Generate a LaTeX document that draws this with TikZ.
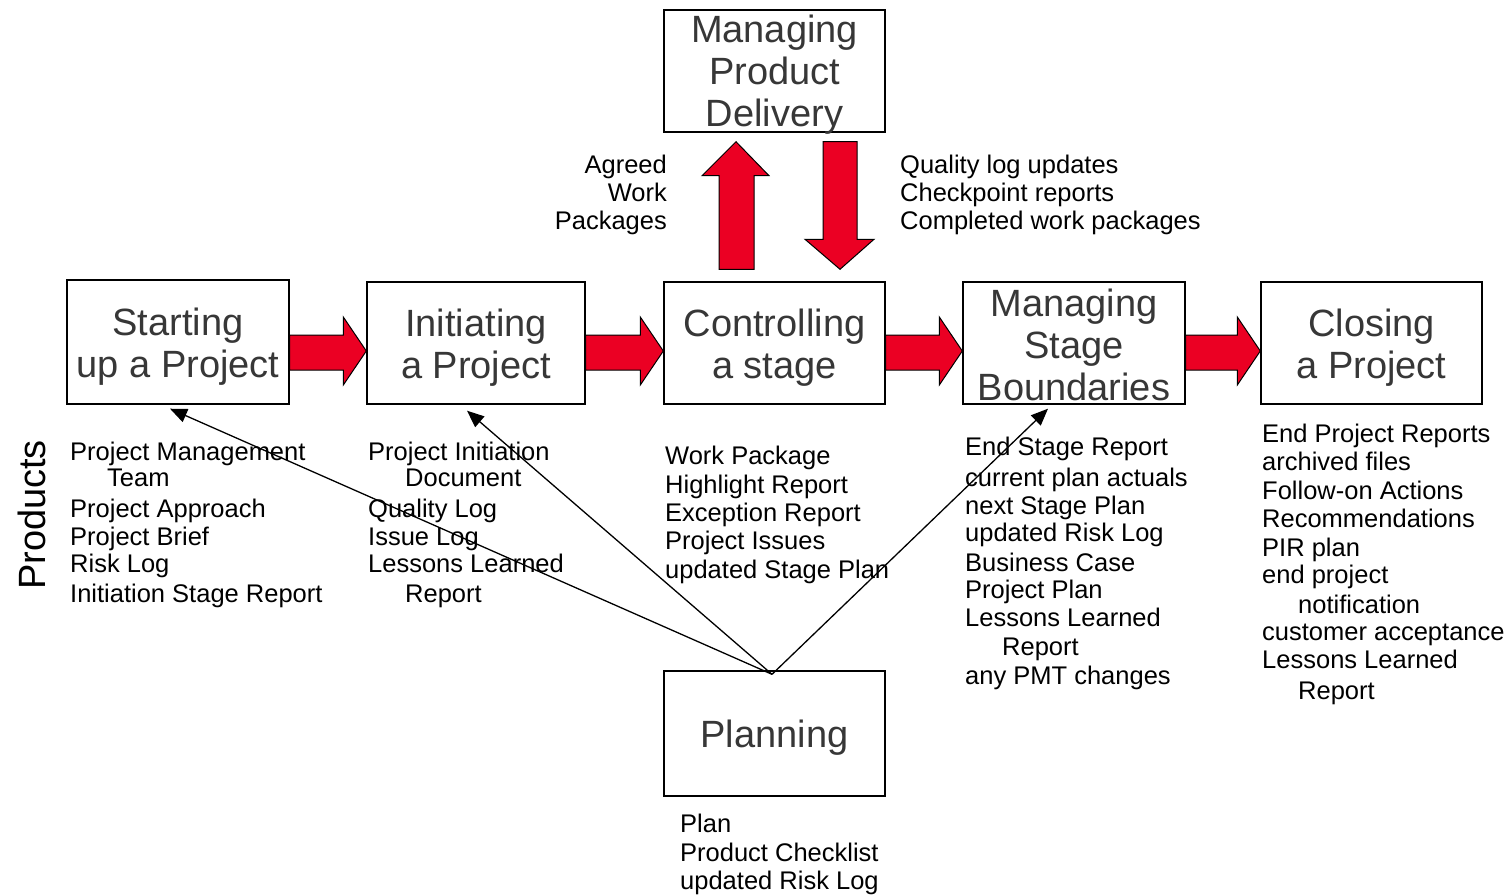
\documentclass[tikz,border=0pt]{standalone}
\usepackage{fontspec}
\setmainfont{Liberation Sans}
\usetikzlibrary{calc,arrows.meta}
\definecolor{bred}{RGB}{235,0,35}
\definecolor{btxt}{RGB}{55,55,55}
\newcommand\harr[2]{%
  \filldraw[barrow] (#1.east|-0,335) -- ($(#2.west|-0,335)+(-23,0)$) -- ($(#2.west|-0,317)+(-23,0)$)
   -- (#2.west|-0,351) -- ($(#2.west|-0,385)+(-23,0)$) -- ($(#2.west|-0,370)+(-23,0)$)
   -- (#1.east|-0,370) -- cycle;}
\begin{document}
\begin{tikzpicture}[x=1pt,y=-1pt,
  box/.style={draw, line width=1.4pt, inner sep=0pt},
  btext/.style={inner sep=0pt, align=center, font=\fontsize{38}{42}\selectfont, text=btxt},
  lst/.style={anchor=base west, inner sep=0pt, font=\fontsize{25.5}{28.5}\selectfont},
  lstr/.style={anchor=base east, inner sep=0pt, font=\fontsize{25.5}{28.5}\selectfont},
  barrow/.style={fill=bred, draw=black, line width=1pt, line join=miter},
  thinarrow/.style={line width=1.3pt, -{Triangle[length=17pt,width=14pt]}}]
\useasboundingbox (0,0) rectangle (1512,894);

% boxes
\node[box, minimum width=221pt, minimum height=122pt,
  label={[btext, yshift=-4pt]center:{Managing\\Product\\Delivery}}] (MPD) at (774.5,71) {};
\node[box, minimum width=222pt, minimum height=124pt,
  label={[btext, yshift=-4.5pt]center:{Starting\\up a Project}}] (SU) at (178,342) {};
\node[box, minimum width=218pt, minimum height=122pt,
  label={[btext, yshift=-4.5pt]center:{Initiating\\a Project}}] (IP) at (476,343) {};
\node[box, minimum width=221pt, minimum height=122pt,
  label={[btext, yshift=-4.5pt]center:{Controlling\\a stage}}] (CS) at (774.5,343) {};
\node[box, minimum width=222pt, minimum height=122pt,
  label={[btext, yshift=-1.5pt]center:{Managing\\Stage\\Boundaries}}] (MSB) at (1074,343) {};
\node[box, minimum width=221pt, minimum height=122pt,
  label={[btext, yshift=-4.5pt]center:{Closing\\a Project}}] (CP) at (1371.5,343) {};
\node[box, minimum width=221pt, minimum height=125pt,
  label={[btext, yshift=-4pt]center:{Planning}}] (PL) at (774.5,733.5) {};

% horizontal block arrows
\harr{SU}{IP}
\harr{IP}{CS}
\harr{CS}{MSB}
\harr{MSB}{CP}

% vertical block arrows
\filldraw[barrow] ($(CS.north-|719,0)+(0,-12)$) -- ($(MPD.south-|719,0)+(0,43)$) -- ($(MPD.south-|702,0)+(0,43)$)
  -- ($(MPD.south-|736,0)+(0,9)$) -- ($(MPD.south-|769,0)+(0,43)$) -- ($(MPD.south-|754,0)+(0,43)$)
  -- ($(CS.north-|754,0)+(0,-12)$) -- cycle;
\filldraw[barrow] ($(MPD.south-|823,0)+(0,9)$) -- ($(CS.north-|823,0)+(0,-42)$) -- ($(CS.north-|805,0)+(0,-42)$)
  -- ($(CS.north-|840,0)+(0,-12)$) -- ($(CS.north-|874,0)+(0,-42)$) -- ($(CS.north-|857,0)+(0,-42)$)
  -- ($(MPD.south-|857,0)+(0,9)$) -- cycle;

% thin arrows from Planning
\coordinate (pt) at ($(PL.north)+(-2.5,4)$);
\draw[thinarrow] (pt) -- ($(SU.south)+(-8,4)$);
\draw[thinarrow] (pt) -- ($(IP.south)+(-9,6)$);
\draw[thinarrow] (pt) -- ($(MSB.south)+(-26,4)$);

% Products label
\node[rotate=90, inner sep=0pt, font=\fontsize{38}{40}\selectfont] (prod) at (32,515) {Products};

% labels near vertical arrows
\node[lstr] (a1) at (667,173) {Agreed};
\node[lstr] (a2) at (667,201) {Work};
\node[lstr] (a3) at (667,229) {Packages};
\node[lst] (q1) at (900,173) {Quality log updates};
\node[lst] (q2) at (900,201) {Checkpoint reports};
\node[lst] (q3) at (900,229) {Completed work packages};

% column 1
\node[lst] (c1a) at (70,460) {Project Management};
\node[lst] (c1b) at (107,486) {Team};
\node[lst] (c1c) at (70,517) {Project Approach};
\node[lst] (c1d) at (70,545) {Project Brief};
\node[lst] (c1e) at (70,572) {Risk Log};
\node[lst] (c1f) at (70,602) {Initiation Stage Report};

% column 2
\node[lst] (c2a) at (368,460) {Project Initiation};
\node[lst] (c2b) at (405,486) {Document};
\node[lst] (c2c) at (368,517) {Quality Log};
\node[lst] (c2d) at (368,545) {Issue Log};
\node[lst] (c2e) at (368,572) {Lessons Learned};
\node[lst] (c2f) at (405,602) {Report};

% column 3
\node[lst] (c3a) at (665,464) {Work Package};
\node[lst] (c3b) at (665,493) {Highlight Report};
\node[lst] (c3c) at (665,521) {Exception Report};
\node[lst] (c3d) at (665,549) {Project Issues};
\node[lst] (c3e) at (665,578) {updated Stage Plan};

% column 4
\node[lst] (c4a) at (965,455) {End Stage Report};
\node[lst] (c4b) at (965,486) {current plan actuals};
\node[lst] (c4c) at (965,514) {next Stage Plan};
\node[lst] (c4d) at (965,541) {updated Risk Log};
\node[lst] (c4e) at (965,571) {Business Case};
\node[lst] (c4f) at (965,598) {Project Plan};
\node[lst] (c4g) at (965,626) {Lessons Learned};
\node[lst] (c4h) at (1002,655) {Report};
\node[lst] (c4i) at (965,684) {any PMT changes};

% column 5
\node[lst] (c5a) at (1262,442) {End Project Reports};
\node[lst] (c5b) at (1262,470) {archived files};
\node[lst] (c5c) at (1262,499) {Follow-on Actions};
\node[lst] (c5d) at (1262,527) {Recommendations};
\node[lst] (c5e) at (1262,556) {PIR plan};
\node[lst] (c5f) at (1262,583) {end project};
\node[lst] (c5g) at (1298,613) {notification};
\node[lst] (c5h) at (1262,640) {customer acceptance};
\node[lst] (c5i) at (1262,668) {Lessons Learned};
\node[lst] (c5j) at (1298,699) {Report};

% planning list
\node[lst] (p1) at (680,832) {Plan};
\node[lst] (p2) at (680,861) {Product Checklist};
\node[lst] (p3) at (680,889) {updated Risk Log};
\end{tikzpicture}
\end{document}
